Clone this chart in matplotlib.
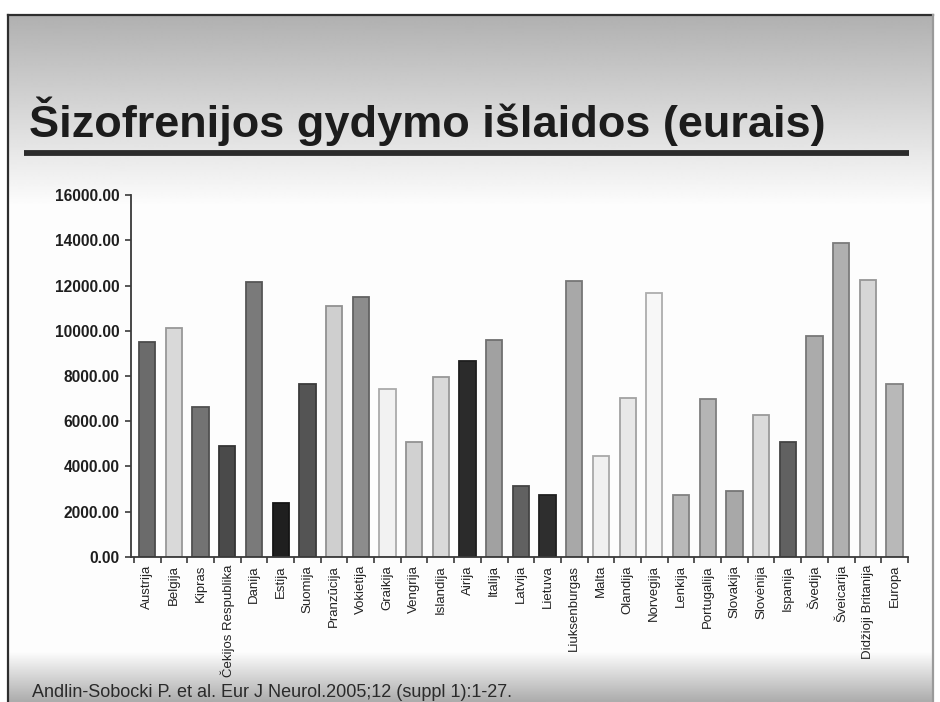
import matplotlib
matplotlib.use("Agg")
import matplotlib.pyplot as plt
import numpy as np
from matplotlib import font_manager
from matplotlib.ticker import FixedLocator, FormatStrFormatter

# Schizophrenia treatment cost per patient, EUR
countries = [
    "Austrija", "Belgija", "Kipras", "Čekijos Respublika", "Danija", "Estija",
    "Suomija", "Pranzūcija", "Vokietija", "Graikija", "Vengrija", "Islandija",
    "Airija", "Italija", "Latvija", "Lietuva", "Liuksenburgas", "Malta",
    "Olandija", "Norvegija", "Lenkija", "Portugalija", "Slovakija", "Slovėnija",
    "Ispanija", "Švedija", "Šveicarija", "Didžioji Britanija", "Europa",
]
costs = [
    9490, 10130, 6620, 4900, 12140, 2380,
    7630, 11120, 11500, 7420, 5060, 7950,
    8670, 9590, 3110, 2720, 12200, 4470,
    7010, 11670, 2730, 6980, 2890, 6270,
    5060, 9780, 13890, 12260, 7650,
]
# grey level of each bar (0 = black, 1 = white)
shades = [
    0.42, 0.85, 0.45, 0.29, 0.48, 0.12,
    0.33, 0.81, 0.55, 0.95, 0.82, 0.85,
    0.17, 0.63, 0.38, 0.18, 0.66, 0.94,
    0.91, 0.97, 0.72, 0.71, 0.66, 0.86,
    0.38, 0.67, 0.69, 0.84, 0.72,
]
yticks = [0, 2000, 4000, 6000, 8000, 10000, 12000, 14000, 16000]

TITLE = "Šizofrenijos gydymo išlaidos (eurais)"
SOURCE = "Andlin-Sobocki P. et al. Eur J Neurol.2005;12 (suppl 1):1-27."

installed = {f.name for f in font_manager.fontManager.ttflist}
narrow = "Liberation Sans Narrow" if "Liberation Sans Narrow" in installed else "Liberation Sans"
label_size = 12 if narrow == "Liberation Sans Narrow" else 9.5
plt.rcParams["font.family"] = ["Liberation Sans", "DejaVu Sans"]

W, H = 940, 702
fig = plt.figure(figsize=(W / 100, H / 100), dpi=100)

# slide background in pixel coordinates
bg = fig.add_axes([0, 0, 1, 1])
bg.set_xlim(0, W)
bg.set_ylim(H, 0)
bg.set_axis_off()
rows = np.arange(15, H)
level = np.interp(rows, [15, 205, 652, 702], [0.69, 0.99, 0.99, 0.67])
grad = np.repeat(level[:, None], 2, axis=1)
bg.imshow(grad, cmap="gray", vmin=0, vmax=1, aspect="auto",
          extent=(8, 933, H, 15), interpolation="bilinear", zorder=0)
bg.plot([8, 8], [15, H], color="#2e2e2e", lw=1.6, zorder=1)
bg.plot([8, 933], [15, 15], color="#2e2e2e", lw=1.6, zorder=1)
bg.plot([933, 933], [15, H], color="#9a9a9a", lw=1.6, zorder=1)
bg.plot([24, 909], [152.7, 152.7], color="#2b2b2b", lw=4.2,
        solid_capstyle="butt", zorder=1)
bg.text(29, 137, TITLE, fontsize=32.5, fontweight="bold", color="#1c1c1c",
        va="baseline", ha="left")
bg.text(32, 697, SOURCE, fontsize=13, color="#2a2a2a", va="baseline", ha="left")

# chart
ax = fig.add_axes([130.7 / W, 1 - 556.7 / H, 777.2 / W, 361.4 / H])
ax.patch.set_alpha(0)
x = np.arange(len(countries))
fills = [(s, s, s) for s in shades]
edges = [(s * 0.7, s * 0.7, s * 0.7) for s in shades]
ax.bar(x, costs, width=0.61, color=fills, edgecolor=edges, linewidth=1.3, zorder=2)

ax.set_xlim(-0.62, len(countries) - 0.5)
ax.set_ylim(0, 16000)
ax.set_yticks(yticks)
ax.yaxis.set_major_formatter(FormatStrFormatter("%.2f"))
for lbl in ax.get_yticklabels():
    lbl.set_fontweight("bold")
ax.tick_params(axis="y", length=4, width=1.2, color="#3a3a3a", pad=4,
               labelsize=11.2, labelcolor="#1e1e1e")

ax.set_xticks(x)
ax.set_xticklabels(countries, rotation=90, fontsize=label_size, family=narrow,
                   color="#222222")
ax.tick_params(axis="x", which="major", length=0, pad=6)
ax.xaxis.set_minor_locator(FixedLocator(np.arange(-0.5, len(countries), 1.0)))
ax.tick_params(axis="x", which="minor", length=4, width=1.2, color="#3a3a3a")

for side in ("top", "right"):
    ax.spines[side].set_visible(False)
for side in ("left", "bottom"):
    ax.spines[side].set_color("#3a3a3a")
    ax.spines[side].set_linewidth(1.3)

fig.savefig("out.png", dpi=100)
